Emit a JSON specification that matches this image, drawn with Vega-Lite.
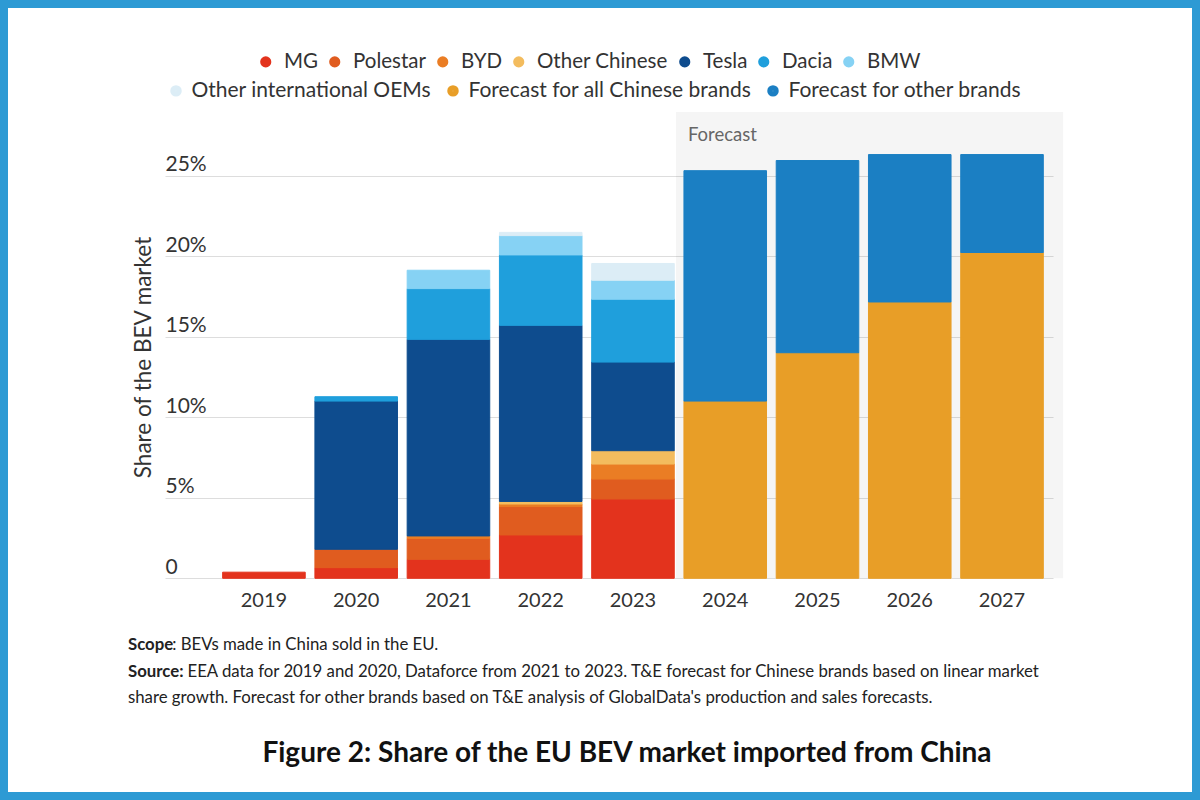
{
  "$schema": "https://vega.github.io/schema/vega-lite/v6.json",
  "width": 1184,
  "height": 784,
  "padding": 8,
  "autosize": {"type": "none"},
  "background": "#2d9ad4",
  "config": {
    "view": {"fill": "white", "stroke": null},
    "font": "Lato",
    "legend": {
      "symbolType": "circle",
      "symbolSize": 125,
      "symbolStrokeWidth": 0,
      "symbolBaseFillColor": "transparent",
      "labelFontSize": 20.5,
      "labelColor": "#333333",
      "labelFont": "Lato",
      "labelOffset": 8,
      "labelLimit": 500,
      "columnPadding": 6,
      "padding": 0
    }
  },
  "title": {
    "text": "Figure 2: Share of the EU BEV market imported from China",
    "orient": "bottom",
    "anchor": "middle",
    "offset": -52,
    "dx": 27,
    "font": "Lato",
    "fontSize": 28,
    "fontWeight": "bold",
    "color": "#111111"
  },
  "layer": [
    {
      "data": {"values": [{"label": "Forecast"}]},
      "mark": {"type": "rect", "fill": "#000000", "opacity": 0.04},
      "encoding": {
        "x": {"datum": "2024", "type": "ordinal", "bandPosition": -0.097},
        "x2": {"datum": "2027", "bandPosition": 1.24},
        "y": {"datum": 28.94, "type": "quantitative"},
        "y2": {"datum": 0}
      }
    },
    {
      "data": {"values": [{"label": "Forecast"}]},
      "mark": {"type": "text", "align": "left", "baseline": "middle", "dx": 4, "fontSize": 18.5, "color": "#666666"},
      "encoding": {
        "x": {"datum": "2024", "type": "ordinal", "bandPosition": 0},
        "y": {"datum": 27.5, "type": "quantitative"},
        "text": {"field": "label"}
      }
    },
    {
      "data": {
        "values": [
          {"year": "2019", "brand": "MG", "k": 1, "share": 0.38},
          {"year": "2020", "brand": "MG", "k": 1, "share": 0.66},
          {"year": "2020", "brand": "Polestar", "k": 2, "share": 1.14},
          {"year": "2020", "brand": "Tesla", "k": 5, "share": 9.2},
          {"year": "2020", "brand": "Dacia", "k": 6, "share": 0.27},
          {"year": "2021", "brand": "MG", "k": 1, "share": 1.18},
          {"year": "2021", "brand": "Polestar", "k": 2, "share": 1.3},
          {"year": "2021", "brand": "BYD", "k": 3, "share": 0.15},
          {"year": "2021", "brand": "Tesla", "k": 5, "share": 12.2},
          {"year": "2021", "brand": "Dacia", "k": 6, "share": 3.15},
          {"year": "2021", "brand": "BMW", "k": 7, "share": 1.14},
          {"year": "2022", "brand": "MG", "k": 1, "share": 2.69},
          {"year": "2022", "brand": "Polestar", "k": 2, "share": 1.77},
          {"year": "2022", "brand": "BYD", "k": 3, "share": 0.15},
          {"year": "2022", "brand": "Other Chinese", "k": 4, "share": 0.16},
          {"year": "2022", "brand": "Tesla", "k": 5, "share": 10.93},
          {"year": "2022", "brand": "Dacia", "k": 6, "share": 4.37},
          {"year": "2022", "brand": "BMW", "k": 7, "share": 1.2},
          {"year": "2022", "brand": "Other international OEMs", "k": 8, "share": 0.2},
          {"year": "2023", "brand": "MG", "k": 1, "share": 4.92},
          {"year": "2023", "brand": "Polestar", "k": 2, "share": 1.24},
          {"year": "2023", "brand": "BYD", "k": 3, "share": 0.93},
          {"year": "2023", "brand": "Other Chinese", "k": 4, "share": 0.83},
          {"year": "2023", "brand": "Tesla", "k": 5, "share": 5.5},
          {"year": "2023", "brand": "Dacia", "k": 6, "share": 3.9},
          {"year": "2023", "brand": "BMW", "k": 7, "share": 1.18},
          {"year": "2023", "brand": "Other international OEMs", "k": 8, "share": 1.04},
          {"year": "2024", "brand": "Forecast for all Chinese brands", "k": 9, "share": 11.0},
          {"year": "2024", "brand": "Forecast for other brands", "k": 10, "share": 14.3},
          {"year": "2025", "brand": "Forecast for all Chinese brands", "k": 9, "share": 14.0},
          {"year": "2025", "brand": "Forecast for other brands", "k": 10, "share": 11.93},
          {"year": "2026", "brand": "Forecast for all Chinese brands", "k": 9, "share": 17.15},
          {"year": "2026", "brand": "Forecast for other brands", "k": 10, "share": 9.15},
          {"year": "2027", "brand": "Forecast for all Chinese brands", "k": 9, "share": 20.22},
          {"year": "2027", "brand": "Forecast for other brands", "k": 10, "share": 6.08}
        ]
      },
      "mark": {"type": "bar"},
      "encoding": {
        "x": {
          "field": "year",
          "type": "ordinal",
          "scale": {
            "domain": ["2019", "2020", "2021", "2022", "2023", "2024", "2025", "2026", "2027"],
            "range": [157, 1045],
            "paddingInner": 0.105,
            "paddingOuter": 0.365,
            "align": 0.856
          },
          "axis": {
            "orient": "bottom",
            "offset": -213.7,
            "domain": false,
            "ticks": false,
            "tickSize": 0,
            "grid": false,
            "labelPadding": 22,
            "labelAlign": "center",
            "labelFontSize": 20,
            "labelColor": "#333333",
            "labelAngle": 0,
            "labelFont": "Lato",
            "title": null
          }
        },
        "y": {
          "field": "share",
          "type": "quantitative",
          "stack": "zero",
          "scale": {"domain": [0, 25], "range": [570.3, 167.5], "nice": false, "zero": true},
          "axis": {
            "orient": "left",
            "offset": -157,
            "values": [0, 5, 10, 15, 20, 25],
            "labelExpr": "datum.value == 0 ? '0' : datum.value + '%'",
            "labelAlign": "left",
            "labelBaseline": "alphabetic",
            "labelOffset": -5,
            "labelPadding": 0,
            "tickSize": 0,
            "ticks": false,
            "domain": false,
            "grid": true,
            "gridColor": "#dddddd",
            "gridWidth": 1,
            "labelFontSize": 21,
            "labelColor": "#333333",
            "labelFont": "Lato",
            "title": "Share of the BEV market",
            "titleFont": "Lato",
            "titleFontSize": 22.5,
            "titleFontWeight": "normal",
            "titleColor": "#333333",
            "titleAngle": -90,
            "titleAlign": "center",
            "titleBaseline": "alphabetic",
            "titleX": -15,
            "titleY": 349
          }
        },
        "order": {"field": "k", "type": "quantitative", "sort": "ascending"},
        "fill": {
          "field": "brand",
          "type": "nominal",
          "scale": {
            "domain": ["MG", "Polestar", "BYD", "Other Chinese", "Tesla", "Dacia", "BMW", "Other international OEMs", "Forecast for all Chinese brands", "Forecast for other brands"],
            "range": ["#e3331d", "#e05c1f", "#ea7d24", "#f3bc5e", "#0e4c8e", "#1f9fdc", "#86d2f4", "#dcedf6", "#e89e27", "#1b7fc3"]
          },
          "legend": {
            "orient": "none",
            "legendX": 247.5,
            "legendY": 43.5,
            "direction": "horizontal",
            "title": null,
            "values": ["MG", "Polestar", "BYD", "Other Chinese", "Tesla", "Dacia", "BMW"]
          }
        },
        "stroke": {
          "field": "brand",
          "type": "nominal",
          "scale": {
            "domain": ["Other international OEMs", "Forecast for all Chinese brands", "Forecast for other brands", "MG", "Polestar", "BYD", "Other Chinese", "Tesla", "Dacia", "BMW"],
            "range": ["#dcedf6", "#e89e27", "#1b7fc3", "#e3331d", "#e05c1f", "#ea7d24", "#f3bc5e", "#0e4c8e", "#1f9fdc", "#86d2f4"]
          },
          "legend": {
            "orient": "none",
            "legendX": 157.5,
            "legendY": 72,
            "direction": "horizontal",
            "title": null,
            "labelFontSize": 21,
            "labelOffset": 5,
            "symbolSize": 30,
            "symbolStrokeWidth": 6,
            "values": ["Other international OEMs", "Forecast for all Chinese brands", "Forecast for other brands"]
          }
        }
      }
    },
    {
      "data": {"values": [{"t": "Scope"}]},
      "mark": {"type": "text", "align": "left", "baseline": "middle", "dx": -94.7, "fontSize": 16.8, "fontWeight": "bold", "color": "#222222"},
      "encoding": {
        "x": {"datum": "2019", "type": "ordinal", "bandPosition": 0},
        "y": {"datum": -4.14, "type": "quantitative"},
        "text": {"field": "t"}
      }
    },
    {
      "data": {"values": [{"t": ": BEVs made in China sold in the EU."}]},
      "mark": {"type": "text", "align": "left", "baseline": "middle", "dx": -50.5, "fontSize": 16.8, "color": "#222222"},
      "encoding": {
        "x": {"datum": "2019", "type": "ordinal", "bandPosition": 0},
        "y": {"datum": -4.14, "type": "quantitative"},
        "text": {"field": "t"}
      }
    },
    {
      "data": {"values": [{"t": "Source:"}]},
      "mark": {"type": "text", "align": "left", "baseline": "middle", "dx": -94.7, "fontSize": 16.8, "fontWeight": "bold", "color": "#222222"},
      "encoding": {
        "x": {"datum": "2019", "type": "ordinal", "bandPosition": 0},
        "y": {"datum": -5.82, "type": "quantitative"},
        "text": {"field": "t"}
      }
    },
    {
      "data": {"values": [{"t": "EEA data for 2019 and 2020, Dataforce from 2021 to 2023. T&E forecast for Chinese brands based on linear market"}]},
      "mark": {"type": "text", "align": "left", "baseline": "middle", "dx": -35.2, "fontSize": 16.8, "color": "#222222"},
      "encoding": {
        "x": {"datum": "2019", "type": "ordinal", "bandPosition": 0},
        "y": {"datum": -5.82, "type": "quantitative"},
        "text": {"field": "t"}
      }
    },
    {
      "data": {"values": [{"t": "share growth. Forecast for other brands based on T&E analysis of GlobalData's production and sales forecasts."}]},
      "mark": {"type": "text", "align": "left", "baseline": "middle", "dx": -94.7, "fontSize": 16.8, "color": "#222222"},
      "encoding": {
        "x": {"datum": "2019", "type": "ordinal", "bandPosition": 0},
        "y": {"datum": -7.43, "type": "quantitative"},
        "text": {"field": "t"}
      }
    }
  ]
}
